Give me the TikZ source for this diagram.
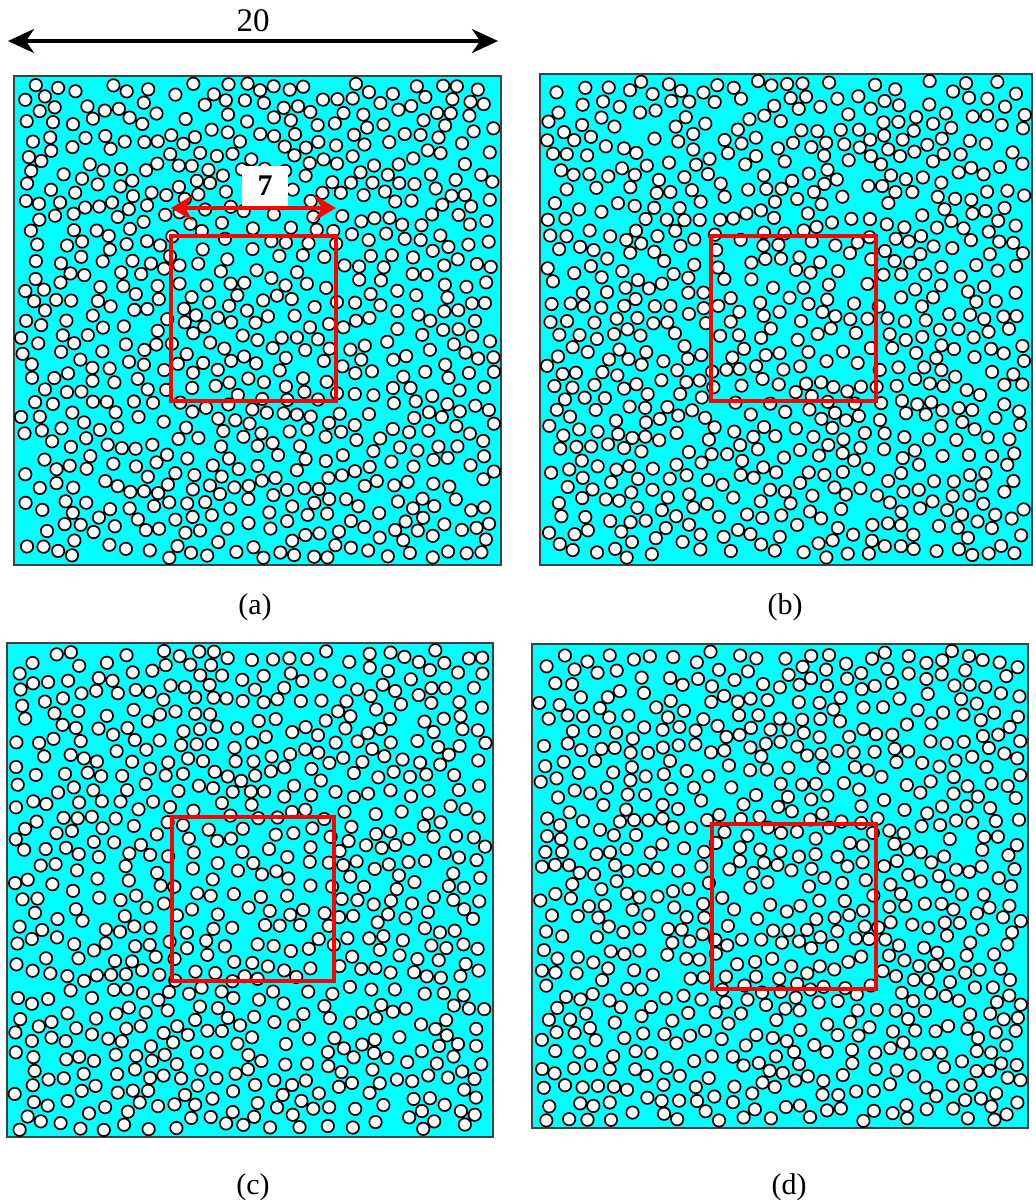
\documentclass[tikz,border=0pt]{standalone}
\usepackage{fontspec}
\setmainfont{Liberation Serif}
\usetikzlibrary{positioning, arrows.meta, calc}

\definecolor{matrixcyan}{RGB}{0,255,255}

\makeatletter
%% fibre placement: random sequential addition, 0.1px units
\newcount\fb@x \newcount\fb@y \newcount\fb@i \newcount\fb@j
\newcount\fb@n \newcount\fb@t \newcount\fb@k \newcount\fb@seed
\newcount\fb@wx \newcount\fb@wy
\newif\iffb@ok
\def\fb@lo{70}      % radius 62 + margin
\def\fb@dsq{16900}  % (min centre distance 130)^2

\def\fb@rand#1#2{%
  \fb@k=\fb@seed \divide\fb@k by 127773
  \fb@seed=\numexpr 16807*(\fb@seed-\fb@k*127773)-2836*\fb@k\relax
  \ifnum\fb@seed<1 \advance\fb@seed by 2147483647 \fi
  \fb@k=\fb@seed \divide\fb@k by #2
  #1=\numexpr\fb@seed-\fb@k*#2\relax}

\def\fb@pt#1#2{%
  \ifnum\numexpr(#1-\fb@x)*(#1-\fb@x)+(#2-\fb@y)*(#2-\fb@y)\relax<\fb@dsq\relax
    \fb@okfalse
  \fi}

\def\fb@cell#1#2{\csname fb@c@\the\numexpr\fb@i#1\relax @\the\numexpr\fb@j#2\relax\endcsname}

\def\fb@clear{%
  \fb@i=-1
  \loop
    {\fb@j=-1
     \loop
       \global\expandafter\let\csname fb@c@\the\fb@i @\the\fb@j\endcsname\@empty
       \advance\fb@j by 1
     \ifnum\fb@j<45 \repeat}%
    \advance\fb@i by 1
  \ifnum\fb@i<45 \repeat}

\def\fb@place#1#2#3#4{%
  \fb@seed=#1
  \fb@clear
  \gdef\fb@all{}%
  \global\fb@n=0 \fb@t=0
  \fb@wx=\numexpr#3-2*\fb@lo+1\relax
  \fb@wy=\numexpr#4-2*\fb@lo+1\relax
  \loop
    \fb@rand\fb@x\fb@wx \advance\fb@x by \fb@lo
    \fb@rand\fb@y\fb@wy \advance\fb@y by \fb@lo
    \fb@i=\fb@x \divide\fb@i by 130
    \fb@j=\fb@y \divide\fb@j by 130
    \fb@oktrue
    \fb@cell{-1}{-1}\fb@cell{-1}{+0}\fb@cell{-1}{+1}%
    \fb@cell{+0}{-1}\fb@cell{+0}{+0}\fb@cell{+0}{+1}%
    \fb@cell{+1}{-1}\fb@cell{+1}{+0}\fb@cell{+1}{+1}%
    \iffb@ok
      \global\advance\fb@n by 1
      \edef\fb@tmp{%
        \noexpand\g@addto@macro
          \expandafter\noexpand\csname fb@c@\the\fb@i @\the\fb@j\endcsname
          {\noexpand\fb@pt{\the\fb@x}{\the\fb@y}}%
        \noexpand\g@addto@macro\noexpand\fb@all
          {(\the\fb@x,\the\fb@y) circle[radius=3.1pt]}}%
      \fb@tmp
    \fi
    \advance\fb@t by 1
  \ifnum\numexpr(\fb@n-#2)*(\fb@t-40000)\relax>0 \repeat}

% seed, fibres, width, height (0.1px)
\newcommand\drawfibres[4]{%
  \fb@place{#1}{#2}{#3}{#4}%
  \edef\fb@do{\noexpand\path[fibre]\fb@all;}\fb@do}
\makeatother

\begin{document}
\begin{tikzpicture}[
  x=0.5pt, y=-0.5pt,
  >=Stealth,
  %% panel styles
  panel/.style={
    draw=black!75, fill=matrixcyan, line width=0.6pt,
    inner sep=0pt, outer sep=0pt, anchor=north west
  },
  fibre/.style={draw=black, fill=white, line width=0.85pt},
  window/.style={
    draw=red, line width=2pt, inner sep=0pt, outer sep=0pt,
    anchor=north west
  },
  %% text styles
  caption/.style={font=\fontsize{15}{18}\selectfont},
  dimtext/.style={font=\fontsize{16.5}{19}\selectfont},
  sidebox/.style={
    fill=white, inner sep=0pt, minimum width=23pt, minimum height=20pt,
    font=\fontsize{15}{18}\selectfont\bfseries
  },
  %% arrows
  dimline/.style={
    line width=1.8pt,
    arrows={Stealth[length=13pt, width=12pt, inset=4pt]-Stealth[length=13pt, width=12pt, inset=4pt]}
  },
  sideline/.style={
    draw=red, line width=2pt,
    arrows={Stealth[length=11pt, width=13pt, inset=4pt]-Stealth[length=11pt, width=13pt, inset=4pt]}
  },
]
\useasboundingbox (0,0) rectangle (1035,1200);

%% ── PANELS ────────────────────────────────────────────────────────────────
\node[panel, minimum width=243.5pt, minimum height=244.5pt] (pa) at (14,76)  {};
\node[panel, minimum width=246pt,   minimum height=245.5pt] (pb) at (540,74) {};
\node[panel, minimum width=243pt,   minimum height=247pt]   (pc) at (7,643)  {};
\node[panel, minimum width=248pt,   minimum height=242pt]   (pd) at (532,644) {};

%% ── FIBRES ────────────────────────────────────────────────────────────────
\begin{scope}[shift={(pa.north west)}, x=0.05pt, y=-0.05pt]
  \drawfibres{12345}{690}{4870}{4890}
\end{scope}
\begin{scope}[shift={(pb.north west)}, x=0.05pt, y=-0.05pt]
  \drawfibres{48271}{690}{4920}{4910}
\end{scope}
\begin{scope}[shift={(pc.north west)}, x=0.05pt, y=-0.05pt]
  \drawfibres{90210}{670}{4860}{4940}
\end{scope}
\begin{scope}[shift={(pd.north west)}, x=0.05pt, y=-0.05pt]
  \drawfibres{31337}{690}{4960}{4840}
\end{scope}

%% ── WINDOWS ───────────────────────────────────────────────────────────────
\node[window, minimum width=82.5pt, minimum height=82.5pt] (wa) at (171,236) {};
\node[window, minimum width=82.5pt, minimum height=82.5pt] (wb) at (711,236) {};
\node[window, minimum width=81pt,   minimum height=82pt]   (wc) at (172,817) {};
\node[window, minimum width=82pt,   minimum height=82.5pt] (wd) at (712,824) {};

%% ── DIMENSIONS ────────────────────────────────────────────────────────────
\coordinate (dl) at (8,41);
\coordinate (dr) at (498,41);
\draw[dimline] (dl) -- (dr);
\node[dimtext] (twenty) at (253,21) {20};

\coordinate (sl) at (wa.north west |- 0,208);
\coordinate (sr) at (wa.north east |- 0,208);
\draw[sideline] (sl) -- (sr);
\node[sidebox] (seven) at (265,186) {7};

%% ── CAPTIONS ──────────────────────────────────────────────────────────────
\node[caption] (ca) at (255,607)  {(a)};
\node[caption] (cb) at (785,607)  {(b)};
\node[caption] (cc) at (253,1187) {(c)};
\node[caption] (cd) at (789,1187) {(d)};

\end{tikzpicture}
\end{document}
